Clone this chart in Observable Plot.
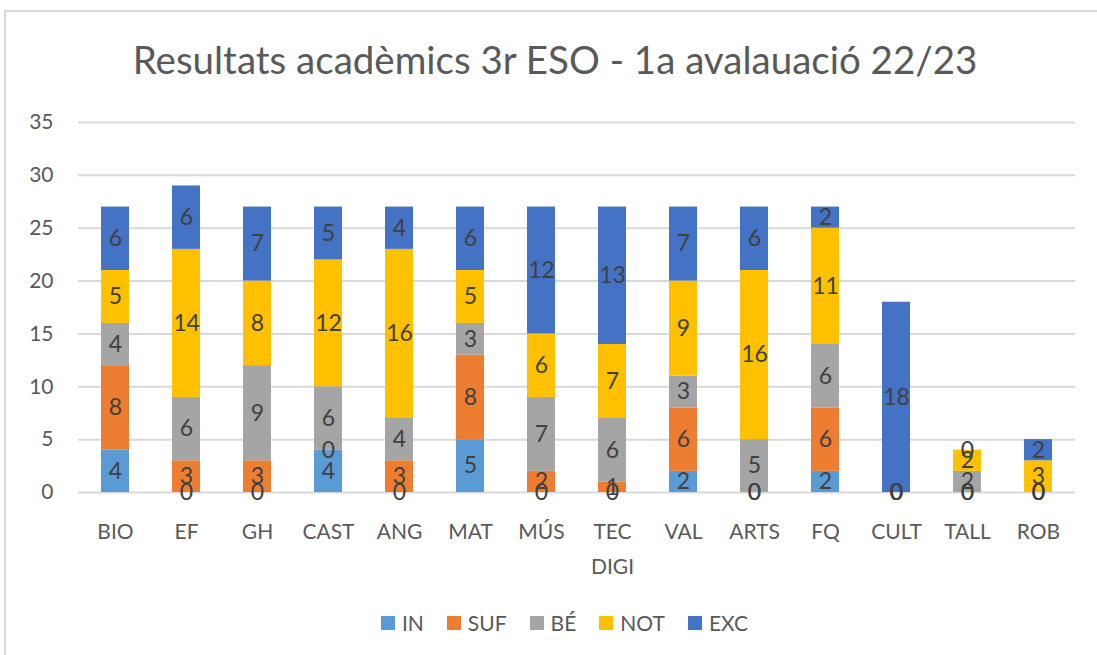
<!DOCTYPE html>
<html>
<head>
<meta charset="utf-8">
<script src="https://cdn.jsdelivr.net/npm/d3@7"></script>
<script src="https://cdn.jsdelivr.net/npm/@observablehq/plot@0.6"></script>
<style>
  html, body { margin: 0; padding: 0; background: #fff; }
  #frame { position: absolute; left: 4px; top: 10px; width: 1100px; height: 660px; border: 2px solid #d9d9d9; box-sizing: border-box; }
  #title { position: absolute; left: 0; width: 1110px; top: 36px; text-align: center; font-family: Lato, "Open Sans", sans-serif; font-size: 38.5px; color: #595959; font-weight: 400; }
  #chart { position: absolute; left: 0; top: 100px; }
  #legend { position: absolute; left: 16px; width: 1097px; top: 610px; display: flex; justify-content: center; gap: 23px; font-family: Lato, "Open Sans", sans-serif; font-size: 21px; color: #595959; }
  .item { display: flex; align-items: center; gap: 7px; }
  .sw { width: 14px; height: 14px; display: inline-block; }
</style>
</head>
<body>
<div id="frame"></div>
<div id="title">Resultats acadèmics 3r ESO - 1a avalauació 22/23</div>
<div id="chart"></div>
<div id="legend"></div>
<script>
const categories = ["BIO", "EF", "GH", "CAST", "ANG", "MAT", "MÚS", "TEC DIGI", "VAL", "ARTS", "FQ", "CULT", "TALL", "ROB"];
const seriesNames = ["IN", "SUF", "BÉ", "NOT", "EXC"];
const seriesColors = ["#5B9BD5", "#ED7D31", "#A5A5A5", "#FFC000", "#4472C4"];
const IN  = [4, 0, 0, 4, 0, 5, 0, 0, 2, 0, 2, 0, 0, 0];
const SUF = [8, 3, 3, 0, 3, 8, 2, 1, 6, 0, 6, 0, 0, 0];
const BE  = [4, 6, 9, 6, 4, 3, 7, 6, 3, 5, 6, 0, 2, 0];
const NOT = [5, 14, 8, 12, 16, 5, 6, 7, 9, 16, 11, 0, 2, 3];
const EXC = [6, 6, 7, 5, 4, 6, 12, 13, 7, 6, 2, 18, 0, 2];
const yTicks = [0, 5, 10, 15, 20, 25, 30, 35];

const seriesValues = [IN, SUF, BE, NOT, EXC];
const data = [];
categories.forEach((c, i) => {
  seriesNames.forEach((s, j) => {
    data.push({cat: c, series: s, value: seriesValues[j][i]});
  });
});

const font = "Lato, 'Open Sans', sans-serif";
const chart = Plot.plot({
  width: 1097,
  height: 490,
  marginLeft: 78,
  marginRight: 22,
  marginTop: 22,
  marginBottom: 98,
  style: {fontFamily: font, fontSize: "21px", color: "#595959", background: "transparent"},
  x: {domain: categories, paddingInner: 0.6, paddingOuter: 0.3, label: null},
  y: {domain: [0, 35], label: null},
  color: {domain: seriesNames, range: seriesColors},
  marks: [
    Plot.gridY(yTicks, {stroke: "#d9d9d9", strokeOpacity: 1, strokeWidth: 2}),
    Plot.axisY(yTicks, {tickSize: 0, tickPadding: 25, fontSize: 21, fill: "#595959", label: null}),
    Plot.axisX({tickSize: 0, tickPadding: 22, fontSize: 21, fill: "#595959", label: null, lineHeight: 1.65,
      tickFormat: d => d.replace(" ", "\n")}),
    Plot.barY(data, Plot.stackY({x: "cat", y: "value", fill: "series", z: "series"})),
    Plot.text(data, Plot.stackY({x: "cat", y: "value", z: "series", text: d => String(d.value), fill: "#404040", fontSize: 23}))
  ]
});
document.getElementById("chart").appendChild(chart);

const legend = document.getElementById("legend");
seriesNames.forEach((s, i) => {
  const item = document.createElement("div");
  item.className = "item";
  const sw = document.createElement("span");
  sw.className = "sw";
  sw.style.background = seriesColors[i];
  const t = document.createElement("span");
  t.textContent = s;
  item.appendChild(sw);
  item.appendChild(t);
  legend.appendChild(item);
});
</script>
</body>
</html>
